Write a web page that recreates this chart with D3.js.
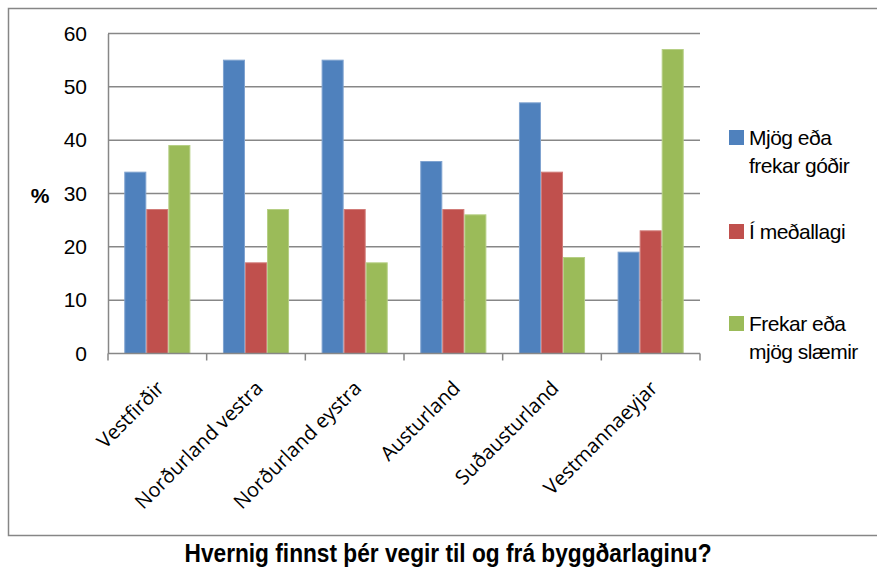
<!DOCTYPE html>
<meta charset="utf-8">
<head>
    <title>Vegir</title>
    <script src="https://cdn.jsdelivr.net/npm/d3@7"></script>
</head>

<style>
    body { margin: 0; background: #fff; }
    text { font-family: "Liberation Sans", Arial, sans-serif; fill: #000; }
    .grid line { stroke: #878787; stroke-width: 1.5; }
    .xlab { font-family: "Open Sans", "Noto Sans", sans-serif; font-size: 20px; }
</style>

<svg></svg>

<script>
    // data
    var regions = ["Vestfirðir", "Norðurland vestra", "Norðurland eystra", "Austurland", "Suðausturland", "Vestmannaeyjar"];
    var seriesNames = [["Mjög eða", "frekar góðir"], ["Í meðallagi"], ["Frekar eða", "mjög slæmir"]];
    var good = [34, 55, 55, 36, 47, 19];
    var average = [27, 17, 27, 27, 34, 23];
    var bad = [39, 27, 17, 26, 18, 57];
    var yTicks = [0, 10, 20, 30, 40, 50, 60];
    var colors = ["#4F81BD", "#C0504D", "#9BBB59"];
    var edges = ["#7FA3D0", "#D17C79", "#B6CF85"];

    var vWidth = 877, vHeight = 570;
    var pLeft = 108, pRight = 700, pTop = 33.5, pBottom = 353.5;

    var svg = d3.select('svg')
        .attr('width', vWidth)
        .attr('height', vHeight);

    // outer frame
    svg.append('rect')
        .attr('x', 8.5).attr('y', 8.5)
        .attr('width', 880).attr('height', 527)
        .attr('fill', 'none').attr('stroke', '#868686').attr('stroke-width', 1.5);

    var x0 = d3.scaleBand().domain(regions).range([pLeft, pRight])
        .paddingInner(0.33).paddingOuter(0.165);
    var x1 = d3.scaleBand().domain([0, 1, 2]).range([0, x0.bandwidth()]);
    var y = d3.scaleLinear().domain([0, 60]).range([pBottom, pTop]);

    // gridlines
    svg.append('g').attr('class', 'grid')
        .selectAll('line').data(yTicks.slice(1)).enter().append('line')
        .attr('x1', pLeft).attr('x2', pRight)
        .attr('y1', function (d) { return y(d); })
        .attr('y2', function (d) { return y(d); });

    // y axis
    var yAxis = svg.append('g')
        .attr('transform', 'translate(' + pLeft + ',0)')
        .call(d3.axisLeft(y).tickValues(yTicks).tickSize(0).tickPadding(21));
    yAxis.select('.domain').attr('stroke', '#878787').attr('stroke-width', 1.5);
    yAxis.selectAll('text').attr('font-size', 21).attr('font-family', '"Liberation Sans", Arial, sans-serif');

    svg.append('text')
        .attr('x', 40).attr('y', y(30) + 9)
        .attr('text-anchor', 'middle')
        .attr('font-size', 21).attr('font-weight', 'bold')
        .text('%');

    // bars
    var values = regions.map(function (r, i) { return [good[i], average[i], bad[i]]; });
    svg.append('g').selectAll('g').data(values).enter().append('g')
        .attr('transform', function (d, i) { return 'translate(' + x0(regions[i]) + ',0)'; })
        .selectAll('rect').data(function (d) { return d; }).enter().append('rect')
        .attr('x', function (d, j) { return x1(j) + 0.5; })
        .attr('y', function (d) { return y(d); })
        .attr('width', x1.bandwidth() - 1)
        .attr('height', function (d) { return y(0) - y(d); })
        .attr('fill', function (d, j) { return colors[j]; })
        .attr('stroke', function (d, j) { return edges[j]; })
        .attr('stroke-width', 1);

    // x axis with ticks at category boundaries
    var step = x0.step();
    var bounds = d3.range(regions.length + 1).map(function (i) { return pLeft + i * step; });
    svg.append('line')
        .attr('x1', pLeft).attr('x2', pRight)
        .attr('y1', pBottom).attr('y2', pBottom)
        .attr('stroke', '#878787').attr('stroke-width', 1.5);
    svg.append('g').selectAll('line').data(bounds).enter().append('line')
        .attr('x1', function (d) { return d; }).attr('x2', function (d) { return d; })
        .attr('y1', pBottom).attr('y2', pBottom + 7)
        .attr('stroke', '#878787').attr('stroke-width', 1.5);

    svg.append('g').selectAll('text').data(regions).enter().append('text')
        .attr('class', 'xlab')
        .attr('text-anchor', 'end')
        .attr('transform', function (d) {
            return 'translate(' + (x0(d) + x0.bandwidth() / 2 + 8) + ',' + (pBottom + 36) + ') rotate(-45)';
        })
        .text(function (d) { return d; });

    // legend
    var legendY = [130, 224, 316];
    var legend = svg.append('g').selectAll('g').data(seriesNames).enter().append('g')
        .attr('transform', function (d, i) { return 'translate(729,' + legendY[i] + ')'; });
    legend.append('rect')
        .attr('width', 15).attr('height', 15)
        .attr('fill', function (d, i) { return colors[i]; });
    legend.append('text')
        .attr('x', 20).attr('y', 15)
        .attr('font-size', 21).attr('letter-spacing', -0.5)
        .selectAll('tspan').data(function (d) { return d; }).enter().append('tspan')
        .attr('x', 20).attr('dy', function (d, k) { return k === 0 ? 0 : 28; })
        .text(function (d) { return d; });

    // title (condensed bold)
    svg.append('text')
        .attr('x', 448).attr('y', 562)
        .attr('text-anchor', 'middle')
        .attr('font-size', 25).attr('font-weight', 'bold')
        .attr('textLength', 527).attr('lengthAdjust', 'spacingAndGlyphs')
        .text('Hvernig finnst þér vegir til og frá byggðarlaginu?');
</script>
